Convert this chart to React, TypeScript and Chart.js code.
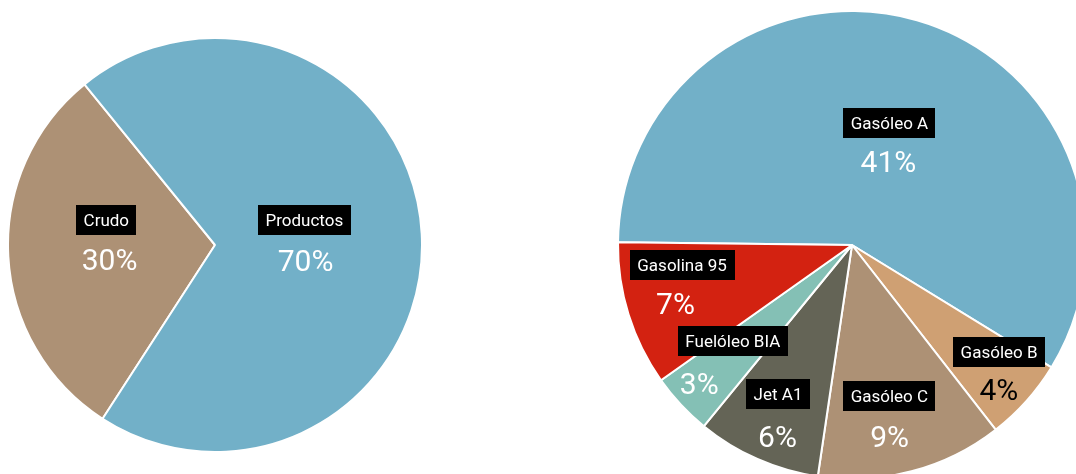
import React, { useEffect, useRef } from "react";
import { Chart, registerables } from "chart.js";

Chart.register(...registerables);

// ---- Data ----
const totalLabels = ["Crudo", "Productos"];
const totalValues = [30, 70];
const totalColors = ["#ad9175", "#72b0c8"];
const totalPctColors = ["#ffffff", "#ffffff"];

const productLabels = ["Gasóleo A", "Gasóleo B", "Gasóleo C", "Jet A1", "Fuelóleo BIA", "Gasolina 95"];
const productValues = [41, 4, 9, 6, 3, 7];
const productColors = ["#72b0c8", "#cfa073", "#ad9175", "#646456", "#84c0b5", "#d32211"];
const productPctColors = ["#ffffff", "#000000", "#ffffff", "#ffffff", "#ffffff", "#ffffff"];

// Label placement relative to each slice: angle offset (deg) from slice middle,
// radius fraction, half gap between name box and percentage, horizontal split.
const totalPlacement = [
  { dAng: 5.95, f: 0.518, gap: 19.4, shift: -1.6 },
  { dAng: 0.1, f: 0.435, gap: 20, shift: -0.6 },
];
const productPlacement = [
  { dAng: 3.6, f: 0.468, gap: 19.3, shift: 0.5 },
  { dAng: -1.25, f: 0.827, gap: 18.5, shift: 0.15 },
  { dAng: 2.4, f: 0.75, gap: 20, shift: -0.1 },
  { dAng: -0.25, f: 0.793, gap: 21.3, shift: 0.3 },
  { dAng: 2.2, f: 0.768, gap: 21, shift: 16.8 },
  { dAng: 4.6, f: 0.759, gap: 19.3, shift: 3.3 },
];

const FONT = "Roboto, 'Noto Sans', sans-serif";

function makeLabelPlugin(labels: string[], values: number[], placement: any[], pctColors: string[]) {
  return {
    id: "sliceLabels",
    afterDatasetsDraw(chart: any) {
      const ctx = chart.ctx;
      const meta = chart.getDatasetMeta(0);
      meta.data.forEach((arc: any, i: number) => {
        const { x, y, startAngle, endAngle, outerRadius } = arc.getProps(
          ["x", "y", "startAngle", "endAngle", "outerRadius"],
          true
        );
        const p = placement[i];
        const mid = (startAngle + endAngle) / 2 + (p.dAng * Math.PI) / 180;
        const ax = x + Math.cos(mid) * outerRadius * p.f;
        const ay = y + Math.sin(mid) * outerRadius * p.f;
        ctx.save();
        ctx.font = `17px ${FONT}`;
        const tw = ctx.measureText(labels[i]).width;
        const bw = tw + 15;
        const bh = 30;
        const bx = ax + p.shift;
        const by = ay - p.gap;
        ctx.fillStyle = "#000000";
        ctx.fillRect(Math.round(bx - bw / 2), Math.round(by - bh / 2), Math.round(bw), bh);
        ctx.fillStyle = "#ffffff";
        ctx.textAlign = "center";
        ctx.textBaseline = "alphabetic";
        ctx.fillText(labels[i], bx, by + 6);
        ctx.font = `30px ${FONT}`;
        ctx.fillStyle = pctColors[i];
        ctx.fillText(`${values[i]}%`, ax - p.shift, ay + p.gap + 10.7);
        ctx.restore();
      });
    },
  };
}

function PieCanvas(props: {
  labels: string[];
  values: number[];
  colors: string[];
  pctColors: string[];
  placement: any[];
  rotation: number;
  radius: number;
  size: number;
  left: number;
  top: number;
}) {
  const ref = useRef<HTMLCanvasElement | null>(null);
  useEffect(() => {
    const chart = new Chart(ref.current as HTMLCanvasElement, {
      type: "pie",
      data: {
        labels: props.labels,
        datasets: [
          {
            data: props.values,
            backgroundColor: props.colors,
            borderColor: "#ffffff",
            borderWidth: 2,
          },
        ],
      },
      options: {
        responsive: false,
        animation: false,
        rotation: props.rotation,
        radius: props.radius,
        events: [],
        layout: { padding: 0 },
        plugins: { legend: { display: false }, tooltip: { enabled: false } },
      } as any,
      plugins: [makeLabelPlugin(props.labels, props.values, props.placement, props.pctColors)],
    });
    return () => chart.destroy();
  }, []);
  return (
    <canvas
      ref={ref}
      width={props.size}
      height={props.size}
      style={{ position: "absolute", left: props.left, top: props.top, width: props.size, height: props.size }}
    />
  );
}

export default function App() {
  return (
    <div
      style={{
        position: "fixed",
        left: 0,
        top: 0,
        width: 1076,
        height: 474,
        overflow: "hidden",
        background: "#ffffff",
      }}
    >
      <PieCanvas
        labels={totalLabels}
        values={totalValues}
        colors={totalColors}
        pctColors={totalPctColors}
        placement={totalPlacement}
        rotation={212.9}
        radius={207}
        size={420}
        left={5}
        top={35}
      />
      <PieCanvas
        labels={productLabels}
        values={productValues}
        colors={productColors}
        pctColors={productPctColors}
        placement={productPlacement}
        rotation={270.7}
        radius={234}
        size={480}
        left={612}
        top={5}
      />
    </div>
  );
}
